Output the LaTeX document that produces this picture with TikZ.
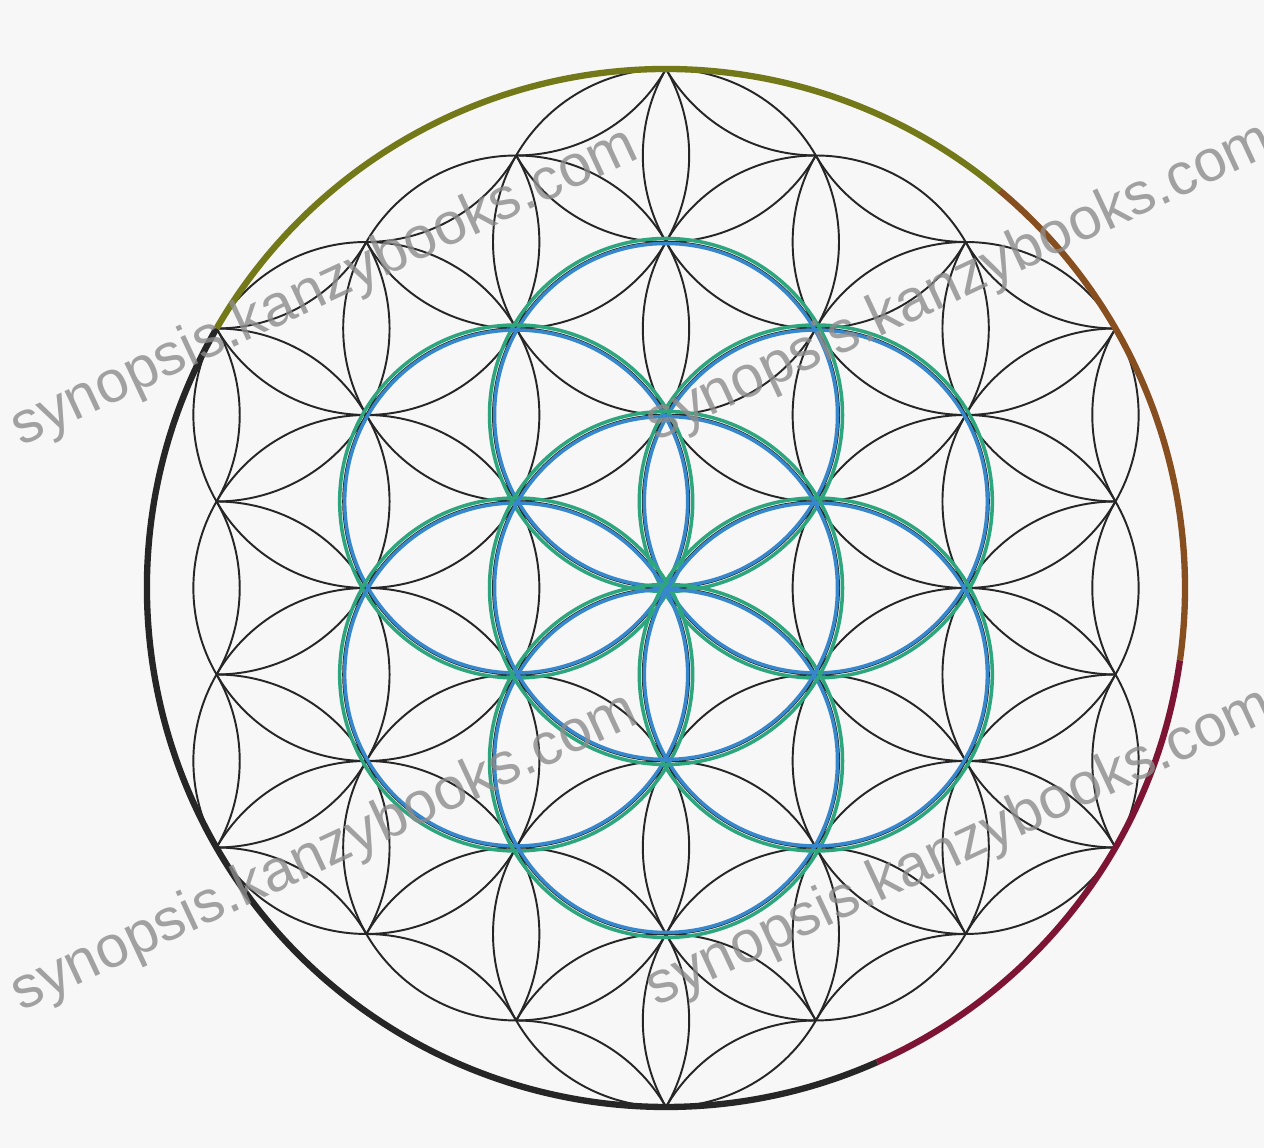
\documentclass[tikz,border=0pt]{standalone}
\usepackage{fontspec}
\setsansfont{Liberation Sans}
\usetikzlibrary{calc}
\definecolor{bgpaper}{RGB}{247,247,247}
\definecolor{seedgrn}{RGB}{45,165,125}
\definecolor{seedblu}{RGB}{55,135,205}
\definecolor{rimolive}{RGB}{115,120,25}
\definecolor{rimbrown}{RGB}{135,78,32}
\definecolor{rimred}{RGB}{125,20,52}
\definecolor{rimdark}{RGB}{38,38,38}
\definecolor{wmark}{RGB}{140,140,140}
\tikzset{
  lat/.style={draw=black!85,line width=1.1pt},
  sgrn/.style={draw=seedgrn,line width=2pt},
  sblu/.style={draw=seedblu,line width=2pt},
  rim/.style={line width=3.6pt},
  wm/.style={font=\sffamily\fontsize{33.5}{33.5}\selectfont,text=wmark,
             text opacity=.8,rotate=25,inner sep=0pt},
}
\begin{document}
\begin{tikzpicture}
  \def\r{3.46}
  \useasboundingbox (0,0) rectangle (25.28,22.96);
  \fill[bgpaper] (0,0) rectangle (25.28,22.96);
  \clip (0,0) rectangle (25.28,22.96);
  \coordinate (O) at (13.32,11.2);
  % petals: 60 degree arcs between lattice points lying inside the rim
  \foreach \i in {-4,...,4}
    \foreach \j in {-6,...,6}
      \foreach \a in {30,90,...,330}{
        \pgfmathsetmacro\px{\i*0.8660+cos(\a)}
        \pgfmathsetmacro\py{\j+\i/2+sin(\a)}
        \pgfmathsetmacro\qx{\i*0.8660+cos(\a+60)}
        \pgfmathsetmacro\qy{\j+\i/2+sin(\a+60)}
        \pgfmathsetmacro\ok{and(\px*\px+\py*\py<9.01,\qx*\qx+\qy*\qy<9.01)}
        \ifdim\ok pt>0.5pt
          \draw[lat] ($(O)+({\px*\r},{\py*\r})$)
            arc[start angle=\a,end angle=\a+60,radius=\r];
        \fi
      }
  % seed of life, green and blue
  \foreach \a in {30,90,...,330}{
    \draw[sgrn] ($(O)+(\a:\r)$) circle (\r+0.07);
    \draw[sblu] ($(O)+(\a:\r)$) circle (\r-0.03);
  }
  \draw[sgrn] (O) circle (\r+0.07);
  \draw[sblu] (O) circle (\r-0.03);
  % coloured rim
  \draw[rim,rimdark]  ($(O)+(150:3*\r)$) arc[start angle=150,end angle=294,radius=3*\r];
  \draw[rim,rimred]   ($(O)+(294:3*\r)$) arc[start angle=294,end angle=352,radius=3*\r];
  \draw[rim,rimbrown] ($(O)+(-8:3*\r)$) arc[start angle=-8,end angle=50,radius=3*\r];
  \draw[rim,rimolive] ($(O)+(50:3*\r)$) arc[start angle=50,end angle=150,radius=3*\r];
  % watermarks
  \node[wm] (wmA) at (6.5,17.2) {synopsis.kanzybooks.com};
  \node[wm] (wmB) at (19.2,17.3) {synopsis.kanzybooks.com};
  \node[wm] (wmC) at (6.5,5.9) {synopsis.kanzybooks.com};
  \node[wm] (wmD) at (19.2,6.0) {synopsis.kanzybooks.com};
\end{tikzpicture}
\end{document}
